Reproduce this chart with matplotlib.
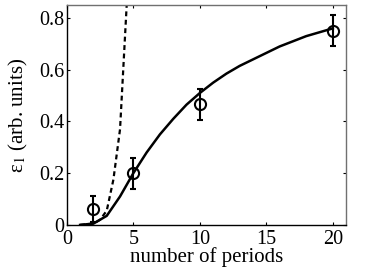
import matplotlib
matplotlib.use("Agg")
import matplotlib.pyplot as plt
from matplotlib.ticker import FuncFormatter

# Measured points with error bars
meas_x = [2, 5, 10, 20]
meas_y = [0.06, 0.20, 0.467, 0.75]
meas_err = [0.05, 0.06, 0.06, 0.06]

# Solid model curve
solid_x = [1, 2, 3, 4, 5, 6, 7, 8, 9, 10, 11, 12, 13, 14, 15, 16, 17, 18, 19, 20]
solid_y = [0.0, 0.005, 0.035, 0.11, 0.20, 0.28, 0.35, 0.41, 0.465, 0.51,
           0.55, 0.585, 0.615, 0.64, 0.665, 0.69, 0.71, 0.73, 0.745, 0.76]

# Dashed curve
dash_x = [1, 2, 2.5, 3, 3.5, 4, 4.5, 4.7]
dash_y = [0.0, 0.005, 0.02, 0.055, 0.175, 0.37, 0.85, 1.1]

xticks = [0, 5, 10, 15, 20]
yticks = [0, 0.2, 0.4, 0.6, 0.8]

plt.rcParams['font.family'] = ['Liberation Serif', 'DejaVu Serif']
plt.rcParams['mathtext.fontset'] = 'stix'

fig = plt.figure(figsize=(3.82, 2.69), dpi=100)
ax = fig.add_axes([0.175, 0.164, 0.731, 0.817])

ax.plot(dash_x, dash_y, color='black', lw=1.6, ls=(0, (2.2, 1.6)))
ax.plot(solid_x, solid_y, color='black', lw=1.8)
ax.errorbar(meas_x, meas_y, yerr=meas_err, fmt='o', mfc='none', mec='black',
            ms=8, mew=1.5, ecolor='black', elinewidth=1.5, capsize=2.2,
            capthick=1.5)

ax.set_xlim(0, 21)
ax.set_ylim(0, 0.85)
ax.set_xticks(xticks)
ax.set_yticks(yticks)
ax.yaxis.set_major_formatter(FuncFormatter(lambda v, p: '0' if v == 0 else f'{v:.1f}'))
ax.tick_params(direction='in', length=2.5, width=0.8, top=True, right=True,
               labelsize=14.5, pad=2)
ax.tick_params(axis='x', pad=3.5)
for s in ['left', 'bottom']:
    ax.spines[s].set_color('black')
    ax.spines[s].set_linewidth(1.0)
for s in ['top', 'right']:
    ax.spines[s].set_color('#707070')
    ax.spines[s].set_linewidth(1.0)

ax.set_xlabel('number of periods', fontsize=15, labelpad=-1)
ax.set_ylabel(r'ε$_1$ (arb. units)', fontsize=15, labelpad=6)

fig.savefig('out.png', dpi=100)
